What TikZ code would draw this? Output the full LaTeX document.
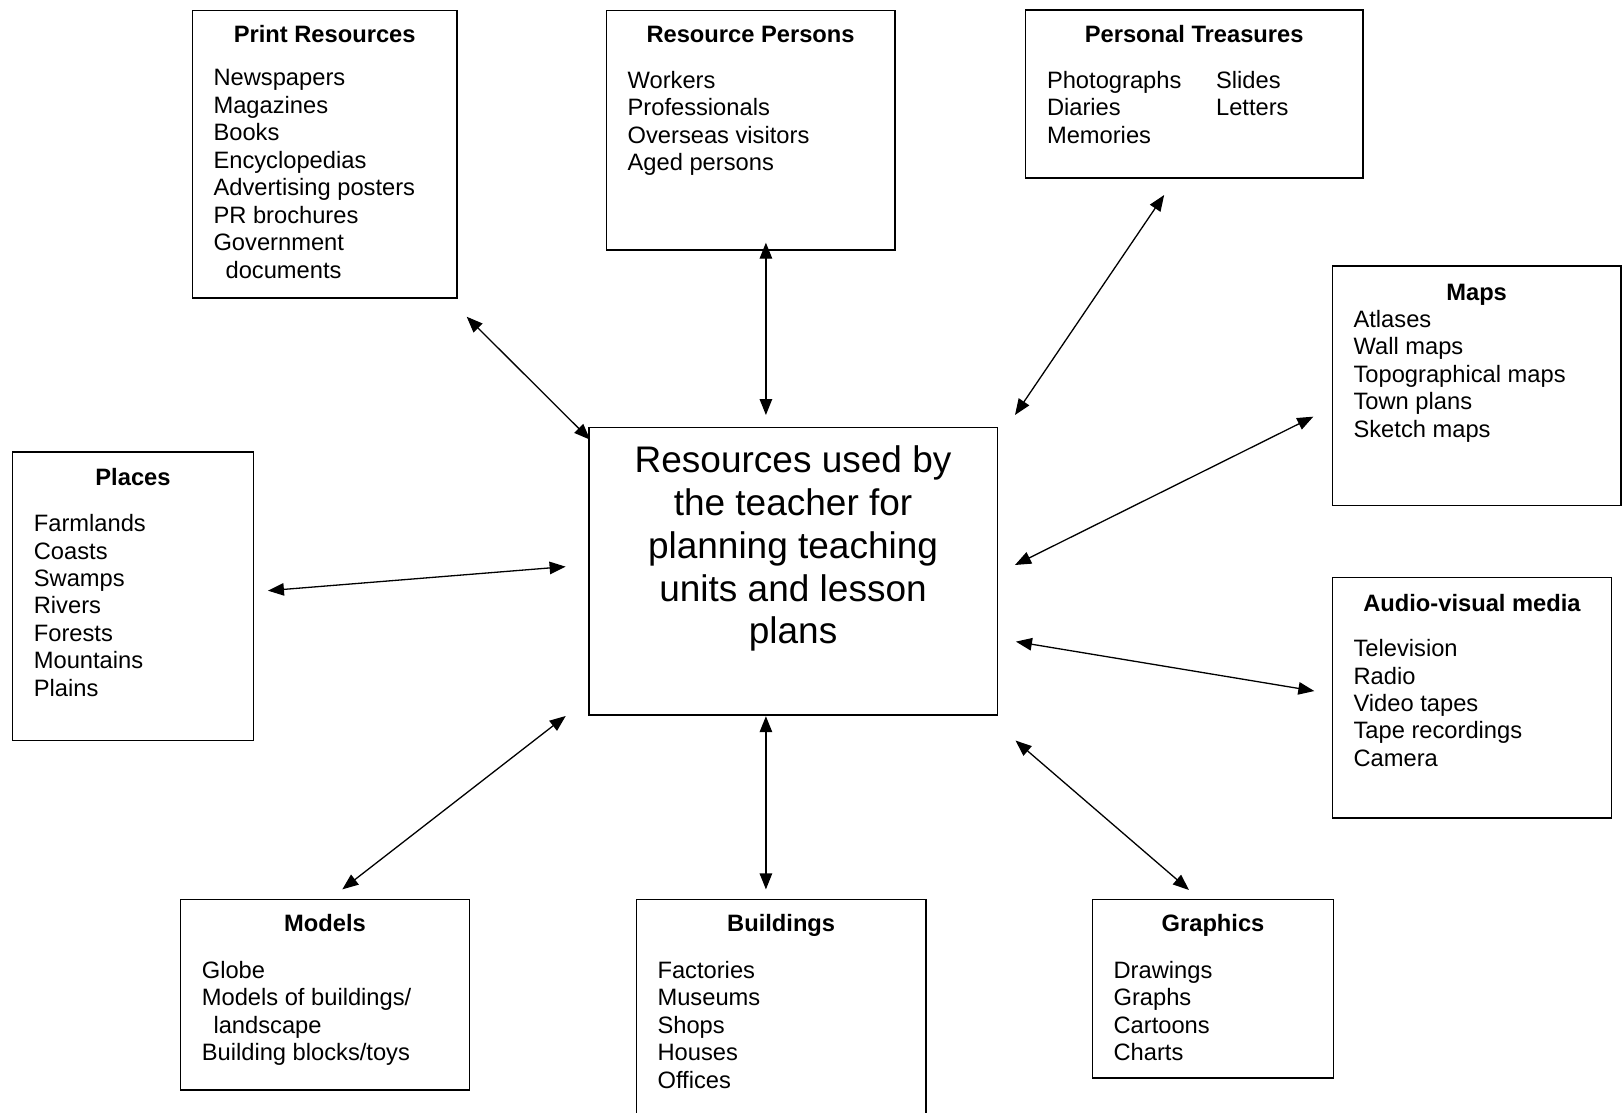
\documentclass[tikz,border=0pt]{standalone}
\usepackage{fontspec}
\setmainfont{Liberation Sans}
\usetikzlibrary{arrows.meta,fit}
\newcommand\itemsz{\fontsize{23.7pt}{27.4pt}\selectfont}
\newcommand\ctrsz{\fontsize{37pt}{42.7pt}\selectfont}
\tikzset{
  box/.style={draw=black,line width=1.6pt,inner sep=0pt,fill=none},
  ttl/.style={anchor=base,inner sep=0pt,font=\itemsz\bfseries},
  itm/.style={anchor=base west,inner sep=0pt,font=\itemsz},
  ctr/.style={anchor=base,inner sep=0pt,font=\ctrsz},
  dbl/.style={line width=1.3pt,{Triangle[length=16pt,width=12.5pt]}-{Triangle[length=16pt,width=12.5pt]}}
}
\begin{document}
\begin{tikzpicture}[x=1.0357pt,y=-1.0357pt]
\clip (0,0) rectangle (1568,1073.7);
\fill[white] (0,0) rectangle (1568,1073.7);

% boxes
\node[box,fit={(186,10) (441,288)}] (print) {};
\node[box,fit={(585.5,10) (864,241.4)}] (persons) {};
\node[box,fit={(990,9.7) (1316,172)}] (treas) {};
\node[box,fit={(1286.4,256.8) (1565,488)}] (maps) {};
\node[box,fit={(12.2,436.7) (244.6,715.1)}] (places) {};
\node[box,fit={(568.4,412.6) (963,690.4)}] (center) {};
\node[box,fit={(1286.4,557.4) (1556,789.5)}] (audio) {};
\node[box,fit={(174.4,868.3) (453.2,1052.4)}] (models) {};
\node[box,fit={(614.7,868.3) (893.8,1100)}] (build) {};
\node[box,fit={(1055,868.3) (1287.4,1041.1)}] (graph) {};

% Print Resources
\node[ttl] (printT) at (313.5,41.2) {Print Resources};
\foreach \t [count=\i from 0] in {Newspapers,Magazines,Books,Encyclopedias,Advertising posters,PR brochures,Government}
  \node[itm] (pr-\i) at (206,{83+26.5*\i}) {\t};
\node[itm] (pr-7) at (217.6,{83+26.5*7}) {documents};

% Resource Persons
\node[ttl] (persT) at (724.7,41.2) {Resource Persons};
\foreach \t [count=\i from 0] in {Workers,Professionals,Overseas visitors,Aged persons}
  \node[itm] (rp-\i) at (605.8,{85.3+26.5*\i}) {\t};

% Personal Treasures
\node[ttl] (treasT) at (1153,41.2) {Personal Treasures};
\foreach \t [count=\i from 0] in {Photographs,Diaries,Memories}
  \node[itm] (pt-\i) at (1010.7,{85.3+26.5*\i}) {\t};
\foreach \t [count=\i from 0] in {Slides,Letters}
  \node[itm] (pu-\i) at (1174,{85.3+26.5*\i}) {\t};

% Maps
\node[ttl] (mapsT) at (1425.7,289.7) {Maps};
\foreach \t [count=\i from 0] in {Atlases,Wall maps,Topographical maps,Town plans,Sketch maps}
  \node[itm] (mp-\i) at (1306.7,{316+26.5*\i}) {\t};

% Places
\node[ttl] (placesT) at (128.4,469.2) {Places};
\foreach \t [count=\i from 0] in {Farmlands,Coasts,Swamps,Rivers,Forests,Mountains,Plains}
  \node[itm] (pl-\i) at (32.5,{513.3+26.5*\i}) {\t};

% Audio-visual media
\node[ttl] (audioT) at (1421.2,590) {Audio-visual media};
\foreach \t [count=\i from 0] in {Television,Radio,Video tapes,Tape recordings,Camera}
  \node[itm] (av-\i) at (1306.7,{634+26.5*\i}) {\t};

% Models
\node[ttl] (modelsT) at (313.8,899.5) {Models};
\node[itm] (md-0) at (194.7,944.6) {Globe};
\node[itm] (md-1) at (194.7,971.1) {Models of buildings/};
\node[itm] (md-2) at (206,997.6) {landscape};
\node[itm] (md-3) at (194.7,1024.1) {Building blocks/toys};

% Buildings
\node[ttl] (buildT) at (754.2,899.5) {Buildings};
\foreach \t [count=\i from 0] in {Factories,Museums,Shops,Houses,Offices}
  \node[itm] (bd-\i) at (634.7,{944.6+26.5*\i}) {\t};

% Graphics
\node[ttl] (graphT) at (1171.2,899.5) {Graphics};
\foreach \t [count=\i from 0] in {Drawings,Graphs,Cartoons,Charts}
  \node[itm] (gr-\i) at (1075,{944.6+26.5*\i}) {\t};

% Centre text
\node[ctr] (c-0) at (765.7,456.4) {Resources used by};
\node[ctr] (c-1) at (765.7,498.2) {the teacher for};
\node[ctr] (c-2) at (765.7,539.4) {planning teaching};
\node[ctr] (c-3) at (765.7,580.9) {units and lesson};
\node[ctr] (c-4) at (765.7,621.2) {plans};

% arrow end points
\coordinate (aPr1) at (450.6,305.8);  \coordinate (aPr2) at (569.7,424.5);
\coordinate (aRp1) at (739.5,234.3);  \coordinate (aRp2) at (739.5,400.7);
\coordinate (aPt1) at (1124,188.3);   \coordinate (aPt2) at (980,400.7);
\coordinate (aMp1) at (1268,402.3);   \coordinate (aMp2) at (980,545.5);
\coordinate (aPl1) at (258.7,570.3);  \coordinate (aPl2) at (546.1,547.1);
\coordinate (aAv1) at (980.9,619.5);  \coordinate (aAv2) at (1269,667.2);
\coordinate (aGr1) at (980.5,715);    \coordinate (aGr2) at (1148,859.3);
\coordinate (aBd1) at (739.5,691.5);  \coordinate (aBd2) at (739.5,858.7);
\coordinate (aMd1) at (546.2,691.3);  \coordinate (aMd2) at (330.5,858.7);

\draw[dbl] (aPr1) -- (aPr2);
\draw[dbl] (aRp1) -- (aRp2);
\draw[dbl] (aPt1) -- (aPt2);
\draw[dbl] (aMp1) -- (aMp2);
\draw[dbl] (aPl1) -- (aPl2);
\draw[dbl] (aAv1) -- (aAv2);
\draw[dbl] (aGr1) -- (aGr2);
\draw[dbl] (aBd1) -- (aBd2);
\draw[dbl] (aMd1) -- (aMd2);
\end{tikzpicture}
\end{document}
